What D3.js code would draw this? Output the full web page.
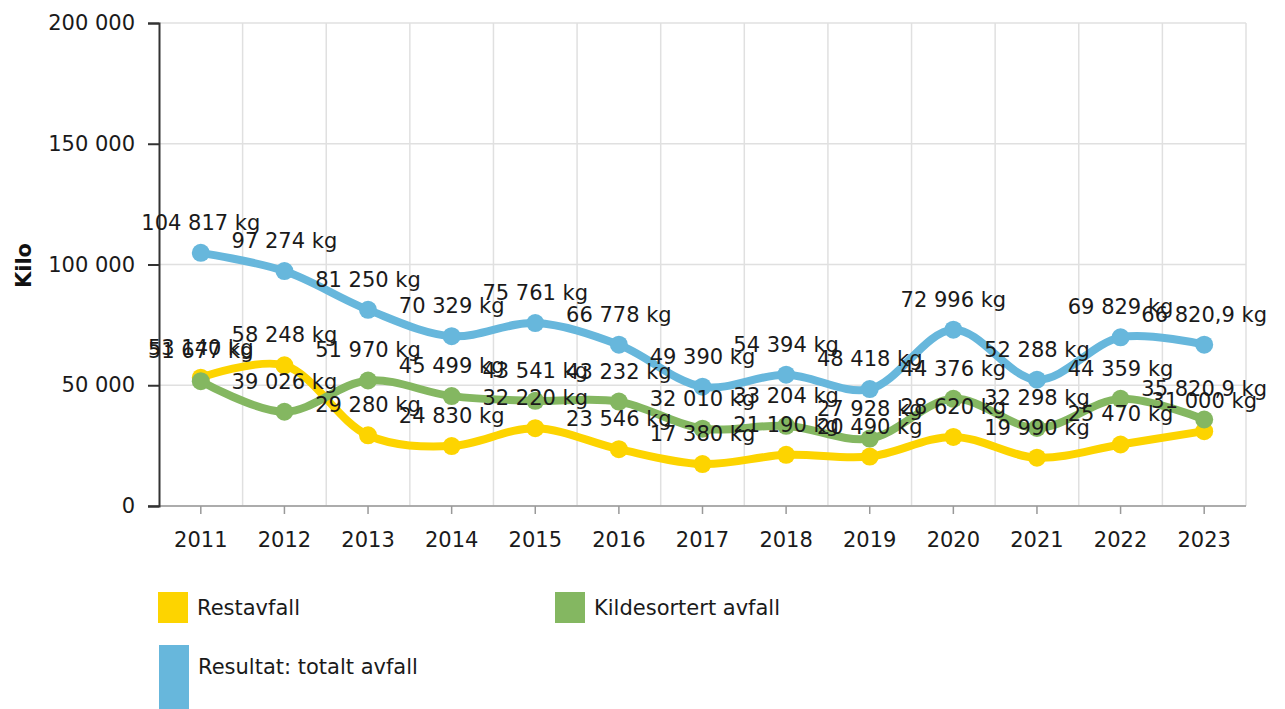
<!DOCTYPE html>
<html>
<head>
<meta charset="utf-8">
<script src="https://cdn.jsdelivr.net/npm/d3@7"></script>
<style>
  body { margin: 0; background: #fff; }
  text { font-family: "DejaVu Sans", Verdana, sans-serif; }
</style>
</head>
<body>
<svg id="grafico" width="1285" height="709"></svg>
<script>
// Data
var years = ["2011", "2012", "2013", "2014", "2015", "2016", "2017", "2018", "2019", "2020", "2021", "2022", "2023"];
var restavfall = [53140, 58248, 29280, 24830, 32220, 23546, 17380, 21190, 20490, 28620, 19990, 25470, 31000];
var kildesortert = [51677, 39026, 51970, 45499, 43541, 43232, 32010, 33204, 27928, 44376, 32298, 44359, 35820.9];
var totalt = [104817, 97274, 81250, 70329, 75761, 66778, 49390, 54394, 48418, 72996, 52288, 69829, 66820.9];
var yTicks = [0, 50000, 100000, 150000, 200000];

var series = [
    { name: "Restavfall", values: restavfall, color: "#fdd400" },
    { name: "Kildesortert avfall", values: kildesortert, color: "#84b761" },
    { name: "Resultat: totalt avfall", values: totalt, color: "#67b7dc" }
];

var svg = d3.select("#grafico");
var izq = 159, der = 1246, arriba = 23, abajo = 506;

// Escalas
var x = d3.scaleBand().domain(years).range([izq, der]);
var y = d3.scaleLinear().domain([0, 200000]).range([abajo, arriba]);
var cx = d => x(d) + x.bandwidth() / 2;

// Formato "104 817" y "66 820,9"
function fmt(v) {
    var s = d3.format(",")(v).replace(/,/g, " ").replace(".", ",");
    return s + " kg";
}

// Rejilla
svg.append("g").selectAll("line")
    .data(yTicks)
    .enter().append("line")
    .attr("x1", izq).attr("x2", der)
    .attr("y1", d => y(d)).attr("y2", d => y(d))
    .attr("stroke", "#e0e0e0").attr("stroke-width", 1.5);
svg.append("g").selectAll("line")
    .data(years)
    .enter().append("line")
    .attr("x1", d => x(d) + x.bandwidth())
    .attr("x2", d => x(d) + x.bandwidth())
    .attr("y1", arriba).attr("y2", abajo)
    .attr("stroke", "#e0e0e0").attr("stroke-width", 1.5);

// Eje X
var xAxis = svg.append("g")
    .attr("transform", "translate(0," + abajo + ")")
    .call(d3.axisBottom(x).tickSize(8).tickPadding(18));
xAxis.select(".domain").attr("stroke", "#999").attr("stroke-width", 1.5)
    .attr("d", "M" + (izq - 11) + ",0H" + der);
xAxis.selectAll(".tick line").attr("stroke", "#999").attr("stroke-width", 1.5);
xAxis.selectAll(".tick text").style("font-size", "21px").attr("fill", "#1a1a1a");

// Eje Y
var yAxis = svg.append("g")
    .attr("transform", "translate(" + izq + ",0)")
    .call(d3.axisLeft(y).tickValues(yTicks).tickSize(11).tickPadding(13)
        .tickFormat(d => d3.format(",")(d).replace(/,/g, " ")));
yAxis.select(".domain").attr("stroke", "#333").attr("stroke-width", 2);
yAxis.selectAll(".tick line").attr("stroke", "#333").attr("stroke-width", 2);
yAxis.selectAll(".tick text").style("font-size", "21px").attr("fill", "#1a1a1a");

svg.append("text")
    .attr("transform", "translate(31," + ((arriba + abajo) / 2 + 1) + ") rotate(-90)")
    .attr("text-anchor", "middle")
    .style("font-size", "21px")
    .style("font-weight", "bold")
    .attr("fill", "#111")
    .text("Kilo");

// Líneas
var line = d3.line()
    .x((d, i) => cx(years[i]))
    .y(d => y(d))
    .curve(d3.curveCatmullRom.alpha(0.5));

series.forEach(function(s) {
    var g = svg.append("g");
    g.append("path")
        .attr("d", line(s.values))
        .attr("fill", "none")
        .attr("stroke", s.color)
        .attr("stroke-width", 8)
        .attr("stroke-linejoin", "round");
    g.selectAll("circle")
        .data(s.values)
        .enter().append("circle")
        .attr("cx", (d, i) => cx(years[i]))
        .attr("cy", d => y(d))
        .attr("r", 9)
        .attr("fill", s.color);
});

// Etiquetas de los puntos
series.forEach(function(s) {
    svg.append("g").selectAll("text")
        .data(s.values)
        .enter().append("text")
        .attr("x", (d, i) => cx(years[i]))
        .attr("y", d => y(d) - 23)
        .attr("text-anchor", "middle")
        .style("font-size", "21px")
        .attr("fill", "#1a1a1a")
        .text(d => fmt(d));
});

// Leyenda
var legend = [
    { s: series[0], x: 158, y: 592, h: 31, ty: 608 },
    { s: series[1], x: 555, y: 592, h: 31, ty: 608 },
    { s: series[2], x: 159, y: 645, h: 70, ty: 667 }
];
legend.forEach(function(l) {
    svg.append("rect")
        .attr("x", l.x).attr("y", l.y)
        .attr("width", 30).attr("height", l.h)
        .attr("fill", l.s.color);
    svg.append("text")
        .attr("x", l.x + 39)
        .attr("y", l.ty)
        .attr("dominant-baseline", "central")
        .style("font-size", "21px")
        .attr("fill", "#1a1a1a")
        .text(l.s.name);
});
</script>
</body>
</html>
